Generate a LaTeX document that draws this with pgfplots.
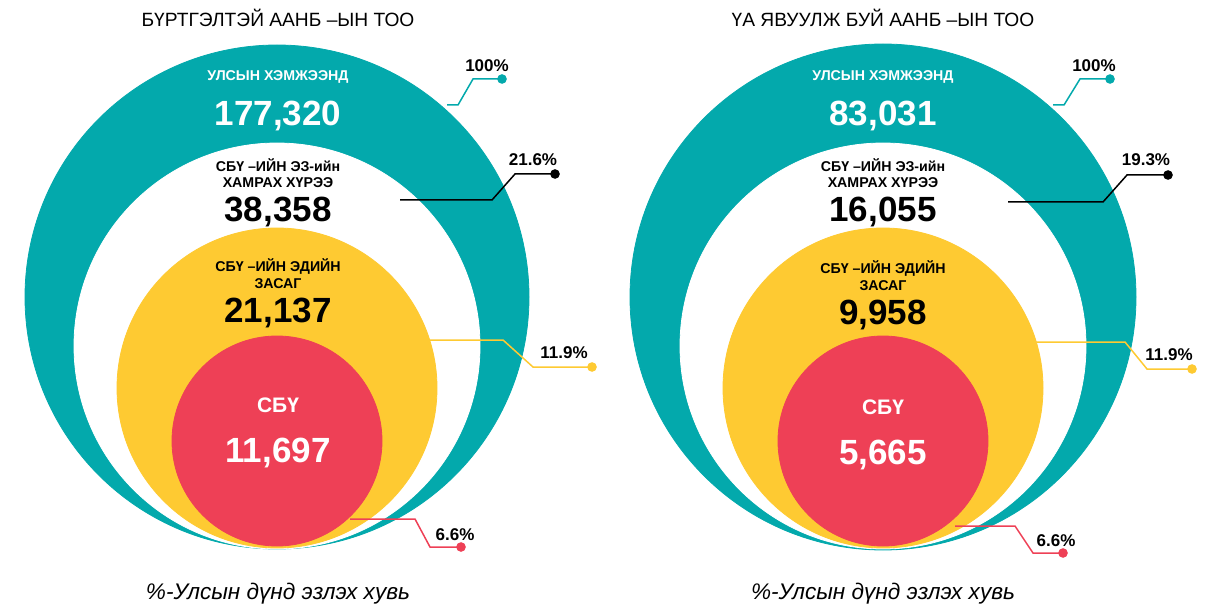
\documentclass[border=0pt]{standalone}
\usepackage{fontspec}
\setmainfont{Liberation Sans}
\usepackage{pgfplots}
\pgfplotsset{compat=1.18}
\definecolor{TealC}{HTML}{03A9AC}
\definecolor{YellowC}{HTML}{FECA32}
\definecolor{RedC}{HTML}{EE4056}

\newcommand{\fs}[1]{\fontsize{#1}{#1}\selectfont}

\begin{document}
\begin{tikzpicture}
\begin{axis}[
  hide axis, scale only axis,
  x=0.5pt, y=0.5pt,
  xmin=0, xmax=1212, ymin=0, ymax=611,
  y dir=reverse, clip=false, clip mode=individual,
  every node/.append style={align=center, inner sep=0pt},
]
% keep the full frame in the bounding box
\addplot[draw=none] coordinates {(0,0) (1212,611)};
% ---- left chart: nested circles (radius in pt = px/2)
\addplot[only marks, mark=*, TealC, mark size=126pt] coordinates {(277,297)};
\addplot[only marks, mark=*, white, mark size=101.5pt] coordinates {(277,346)};
\addplot[only marks, mark=*, YellowC, mark size=80pt] coordinates {(277,388)};
\addplot[only marks, mark=*, RedC, mark size=52.5pt] coordinates {(277,441)};
% ---- right chart
\addplot[only marks, mark=*, TealC, mark size=126.5pt] coordinates {(883,297)};
\addplot[only marks, mark=*, white, mark size=101.5pt] coordinates {(883,346)};
\addplot[only marks, mark=*, YellowC, mark size=80pt] coordinates {(883,388)};
\addplot[only marks, mark=*, RedC, mark size=52.5pt] coordinates {(883,441)};

% ---- leader lines, left
\addplot[TealC, line width=0.75pt, mark=*, mark indices={4}, mark size=2pt] coordinates {(447,105) (458,105) (473,79) (502,79)};
\addplot[black, line width=0.75pt, mark=*, mark indices={4}, mark size=2pt] coordinates {(400,200) (492,200) (515,174) (555,174)};
\addplot[YellowC, line width=0.75pt, mark=*, mark indices={4}, mark size=2pt] coordinates {(430,340) (503,340) (533,367) (592,367)};
\addplot[RedC, line width=0.75pt, mark=*, mark indices={4}, mark size=2pt] coordinates {(350,519) (415,519) (430,547) (461,547)};
% ---- leader lines, right
\addplot[TealC, line width=0.75pt, mark=*, mark indices={4}, mark size=2pt] coordinates {(1053,105) (1064,105) (1080,79) (1110,79)};
\addplot[black, line width=0.75pt, mark=*, mark indices={4}, mark size=2pt] coordinates {(1008,202) (1103,202) (1127,175) (1168,175)};
\addplot[YellowC, line width=0.75pt, mark=*, mark indices={4}, mark size=2pt] coordinates {(1035,342) (1125,342) (1147,369) (1192,369)};
\addplot[RedC, line width=0.75pt, mark=*, mark indices={4}, mark size=2pt] coordinates {(955,526) (1015,526) (1033,553) (1063,553)};

% ---- left texts
\node[font=\fs{9.6}] at (axis cs:278,18) {БҮРТГЭЛТЭЙ ААНБ –ЫН ТОО};
\node[font=\fs{7.1}\bfseries, white] at (axis cs:278,77) {УЛСЫН ХЭМЖЭЭНД};
\node[font=\fs{17.5}\bfseries, white] at (axis cs:278,116) {177,320};
\node[font=\fs{7.1}\bfseries] at (axis cs:278,165) {СБҮ –ИЙН ЭЗ-ийн};
\node[font=\fs{7.1}\bfseries] at (axis cs:278,183) {ХАМРАХ ХҮРЭЭ};
\node[font=\fs{17.5}\bfseries] at (axis cs:278,212) {38,358};
\node[font=\fs{7.1}\bfseries] at (axis cs:278,266) {СБҮ –ИЙН ЭДИЙН};
\node[font=\fs{7.1}\bfseries] at (axis cs:278,284) {ЗАСАГ};
\node[font=\fs{17.5}\bfseries] at (axis cs:278,313) {21,137};
\node[font=\fs{10.5}\bfseries, white] at (axis cs:278,405) {СБҮ};
\node[font=\fs{17.5}\bfseries, white] at (axis cs:278,453) {11,697};
\node[font=\fs{8.5}\bfseries] at (axis cs:487,66) {100\%};
\node[font=\fs{8.5}\bfseries] at (axis cs:533,160) {21.6\%};
\node[font=\fs{8.5}\bfseries] at (axis cs:564,353) {11.9\%};
\node[font=\fs{8.5}\bfseries] at (axis cs:455,535) {6.6\%};
\node[font=\fs{11.3}\itshape] at (axis cs:278,594) {\%-Улсын дүнд эзлэх хувь};

% ---- right texts
\node[font=\fs{9.6}] at (axis cs:883,18) {ҮА ЯВУУЛЖ БУЙ ААНБ –ЫН ТОО};
\node[font=\fs{7.1}\bfseries, white] at (axis cs:883,77) {УЛСЫН ХЭМЖЭЭНД};
\node[font=\fs{17.5}\bfseries, white] at (axis cs:883,116) {83,031};
\node[font=\fs{7.1}\bfseries] at (axis cs:883,165) {СБҮ –ИЙН ЭЗ-ийн};
\node[font=\fs{7.1}\bfseries] at (axis cs:883,183) {ХАМРАХ ХҮРЭЭ};
\node[font=\fs{17.5}\bfseries] at (axis cs:883,212) {16,055};
\node[font=\fs{7.1}\bfseries] at (axis cs:883,268) {СБҮ –ИЙН ЭДИЙН};
\node[font=\fs{7.1}\bfseries] at (axis cs:883,286) {ЗАСАГ};
\node[font=\fs{17.5}\bfseries] at (axis cs:883,315) {9,958};
\node[font=\fs{10.5}\bfseries, white] at (axis cs:883,407) {СБҮ};
\node[font=\fs{17.5}\bfseries, white] at (axis cs:883,455) {5,665};
\node[font=\fs{8.5}\bfseries] at (axis cs:1094,66) {100\%};
\node[font=\fs{8.5}\bfseries] at (axis cs:1146,160) {19.3\%};
\node[font=\fs{8.5}\bfseries] at (axis cs:1169,355) {11.9\%};
\node[font=\fs{8.5}\bfseries] at (axis cs:1056,541) {6.6\%};
\node[font=\fs{11.3}\itshape] at (axis cs:883,594) {\%-Улсын дүнд эзлэх хувь};
\end{axis}
\end{tikzpicture}
\end{document}
